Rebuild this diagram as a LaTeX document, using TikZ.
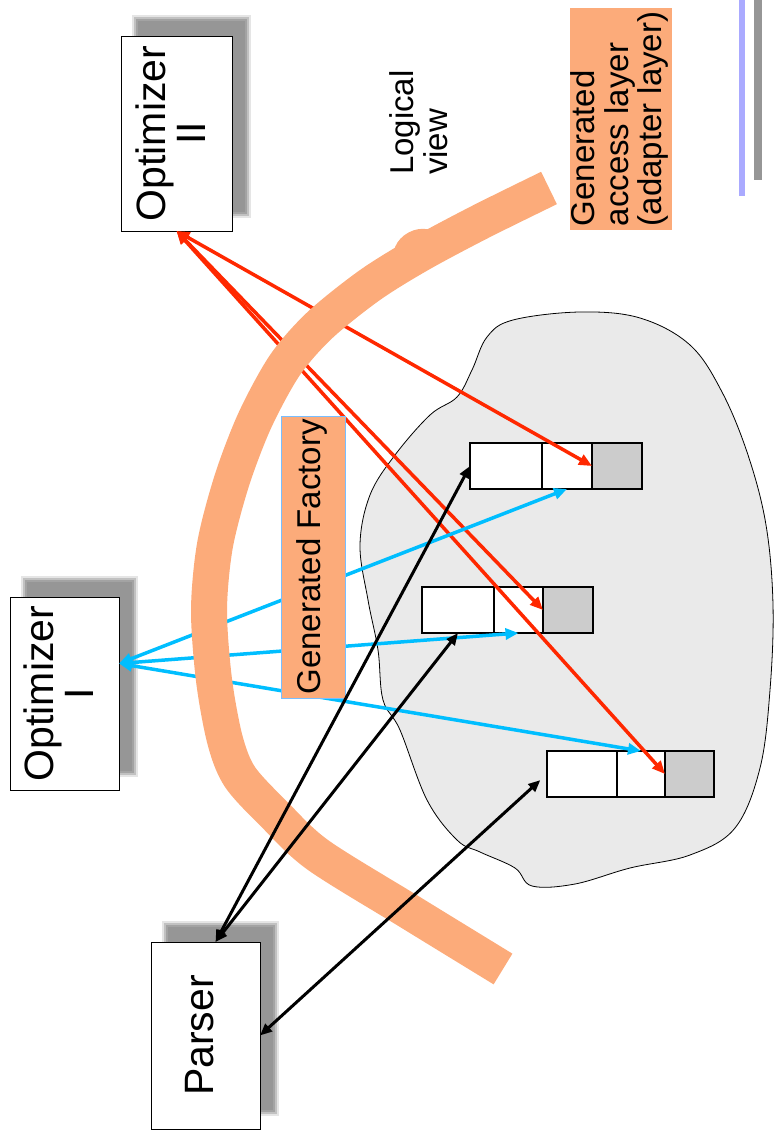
\documentclass[tikz,border=0pt]{standalone}
\usepackage{fontspec}
\setmainfont{Liberation Sans}
\usetikzlibrary{arrows.meta,calc,backgrounds}

\definecolor{bandorange}{RGB}{252,171,122}
\definecolor{redarrow}{RGB}{255,40,0}
\definecolor{bluearrow}{RGB}{0,190,255}
\definecolor{cellgray}{RGB}{204,204,204}
\definecolor{cloudgray}{RGB}{234,234,234}
\definecolor{shadowgray}{RGB}{150,150,150}
\definecolor{barblue}{RGB}{170,170,255}
\definecolor{factoryedge}{RGB}{120,190,255}

% soft drop shadow behind a named box
\newcommand\dropshadow[1]{%
  \foreach \r/\o in {4/0.25,2/0.45,0/0.7,-2/1}{%
    \fill[shadowgray, opacity=\o]
      ($(#1.south west)+(15-\r,-17+\r)$) rectangle ($(#1.north east)+(15+\r,-17-\r)$);
  }}

% rotated multi-line text
\newcommand\uptext[2]{\rotatebox{90}{\begin{tabular}{@{}#1@{}}#2\end{tabular}}}

\begin{document}
\begin{tikzpicture}[x=1pt,y=-1pt,
  box/.style={draw=black, line width=0.8pt, fill=white, inner sep=0pt, outer sep=0pt,
              font=\fontsize{41}{38}\selectfont},
  cell/.style={draw=black, line width=1.2pt, fill=white, minimum height=46pt,
               inner sep=0pt, outer sep=0pt, anchor=west},
  graycell/.style={cell, fill=cellgray},
  redarr/.style={draw=redarrow, line width=3.5pt,
                 {Triangle[length=13pt,width=11pt]}-{Triangle[length=13pt,width=11pt]}},
  bluearr/.style={draw=bluearrow, line width=3.5pt,
                 {Triangle[length=13pt,width=11pt]}-{Triangle[length=13pt,width=11pt]}},
  blackarr/.style={draw=black, line width=3pt,
                 {Triangle[length=12pt,width=10pt]}-{Triangle[length=12pt,width=10pt]}},
  labeltext/.style={font=\fontsize{33}{33}\selectfont, inner sep=0pt, outer sep=0pt}
]
\useasboundingbox (0,0) rectangle (776,1139);

% side bars
\fill[barblue] (739,0) rectangle (745,196);
\fill[shadowgray] (754,0) rectangle (762,180);

% the data store
\draw[fill=cloudgray, line width=0.8pt] plot[smooth cycle, tension=0.6] coordinates {
  (580,312) (640,318) (690,345) (722,392) (748,455) (766,525) (773,605) (770,690)
  (760,768) (735,828) (690,855) (630,868) (575,884) (532,886) (515,868) (480,852)
  (457,840) (427,800) (400,730) (383,700) (378,650) (368,600) (360,545) (370,495)
  (395,455) (430,415) (457,397) (472,370) (487,337) (513,320)};

% record A
\node[cell, minimum width=72pt] (a1) at (470,466) {};
\node[cell, minimum width=50pt] (a2) at (a1.east) {};
\node[graycell, minimum width=50pt] (a3) at (a2.east) {};
% record B
\node[cell, minimum width=72pt] (b1) at (422,610) {};
\node[cell, minimum width=49pt] (b2) at (b1.east) {};
\node[graycell, minimum width=50pt] (b3) at (b2.east) {};
% record C
\node[cell, minimum width=70pt] (c1) at (547,774) {};
\node[cell, minimum width=48pt] (c2) at (c1.east) {};
\node[graycell, minimum width=49pt] (c3) at (c2.east) {};

% clients
\node[box, minimum width=111pt, minimum height=195pt] (opt2) at (176.5,133.5)
  {\uptext{c}{Optimizer\\II}};
\node[box, minimum width=109pt, minimum height=193pt] (opt1) at (64.5,693.5)
  {\uptext{c}{Optimizer\\I}};
\node[box, minimum width=109pt, minimum height=187pt] (parser) at (205.5,1035.5)
  {\uptext{c}{Parser}};

\begin{scope}[on background layer]
  \dropshadow{opt2}
  \dropshadow{opt1}
  \dropshadow{parser}
\end{scope}

\coordinate (o1) at ($(opt1.east)+(0,-30)$);
\coordinate (p1) at ($(parser.north)+(10,0)$);

% optimizer II accesses
\draw[redarr] (opt2.south) -- (a3.west);
\draw[redarr] (opt2.south) -- (b3.west);
\draw[redarr] (opt2.south) -- (c3.west);

% optimizer I accesses
\draw[bluearr] (o1) -- (a2.south);
\draw[bluearr] (o1) -- (b2.south);
\draw[bluearr] (o1) -- (c2.north);

% adapter layer band
\draw[bandorange, line width=36pt] plot[smooth, tension=0.5] coordinates {
  (549,188) (480,222) (420,254) (370,285) (320,325) (285,365) (255,420) (232,480)
  (215,545) (209,610) (214,680) (225,740) (240,777) (275,815) (318,855) (410,912)
  (503,969)};
\fill[bandorange] (418.5,251) ellipse[x radius=26pt, y radius=21pt, rotate=28];

% factory
\node[fill=bandorange, draw=factoryedge, line width=0.8pt, minimum width=64pt,
      minimum height=282pt, inner sep=0pt, labeltext] (factory) at (313,557)
  {\uptext{c}{Generated Factory}};

% parser accesses
\draw[blackarr] (p1) -- (a1.west);
\draw[blackarr] (p1) -- (b1.south);
\draw[blackarr, shorten >=9pt] (parser.east) -- (c1.west);

% labels
\node[fill=bandorange, minimum width=102pt, minimum height=222pt, inner sep=0pt,
      labeltext] (access) at (621,119)
  {\uptext{l}{Generated\\access layer\\(adapter layer)}};
\node[labeltext, anchor=south west] (logical) at (390,175)
  {\uptext{l}{Logical\\view}};
\end{tikzpicture}
\end{document}
